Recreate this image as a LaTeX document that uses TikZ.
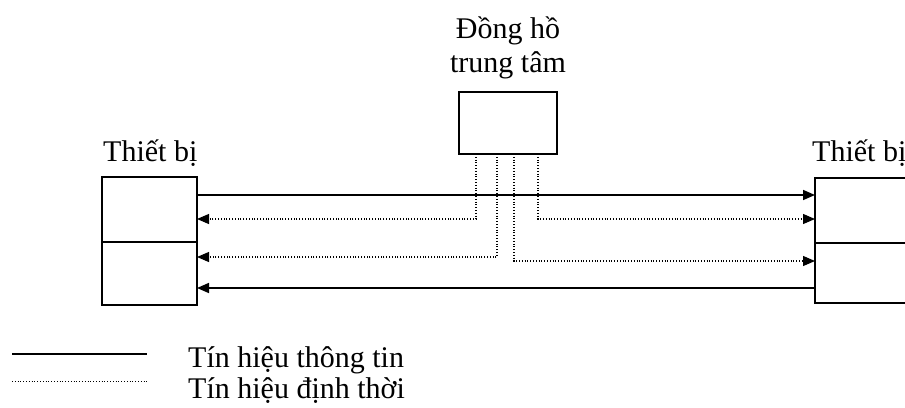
\documentclass[tikz,border=0pt]{standalone}
\usepackage{fontspec}
\setmainfont{Liberation Serif}
\usetikzlibrary{arrows.meta}
\begin{document}
\begin{tikzpicture}[x=1pt,y=-1pt,
  box/.style={draw, line width=2pt, inner sep=0pt, outer sep=0pt, anchor=north west},
  info/.style={line width=1.6pt},
  timing/.style={line width=1.1pt, dash pattern=on 1pt off 1.8pt},
  tip/.style={-{Triangle[length=12pt,width=10pt]}},
  lbl/.style={font=\fontsize{30}{34}\selectfont, inner sep=0pt}]
\useasboundingbox (0,0) rectangle (905,407);
\clip (0,0) rectangle (905,407);

% equipment blocks and the central clock
\node[box, minimum width=95pt, minimum height=65pt] (L1) at (102,177) {};
\node[box, minimum width=95pt, minimum height=63pt] (L2) at (102,242) {};
\node[box, minimum width=145pt, minimum height=65pt] (R1) at (815,178) {};
\node[box, minimum width=145pt, minimum height=60pt] (R2) at (815,243) {};
\node[box, minimum width=98pt, minimum height=62pt] (C) at (459,92) {};

% labels
\node[lbl, anchor=base] (clk1) at (508,38) {Đồng hồ};
\node[lbl, anchor=base] (clk2) at (508,72) {trung tâm};
\node[lbl, anchor=base west] (tl) at (103,161) {Thiết bị};
\node[lbl, anchor=base west] (tr) at (812,161) {Thiết bị};

% information signals
\draw[info, tip] (L1.east |- 0,195) -- (R1.west |- 0,195);
\draw[info, tip] (R2.west |- 0,288) -- (L2.east |- 0,288);

% timing signals from the clock
\draw[timing, tip] (C.south -| 476,0) |- (L1.east |- 0,219);
\draw[timing, tip] (C.south -| 497,0) |- (L2.east |- 0,257);
\draw[timing, tip] (C.south -| 514,0) |- (R2.west |- 0,261);
\draw[timing, tip] (C.south -| 538,0) |- (R1.west |- 0,219);

% legend
\coordinate (s1) at (12,354);
\coordinate (s2) at (147,354);
\coordinate (d1) at (12,381);
\coordinate (d2) at (147,381);
\draw[info, line width=2.2pt] (s1) -- (s2);
\draw[timing, line width=0.8pt] (d1) -- (d2);
\node[lbl, anchor=base west] (leg1) at (188,367) {Tín hiệu thông tin};
\node[lbl, anchor=base west] (leg2) at (188,398) {Tín hiệu định thời};
\end{tikzpicture}
\end{document}
